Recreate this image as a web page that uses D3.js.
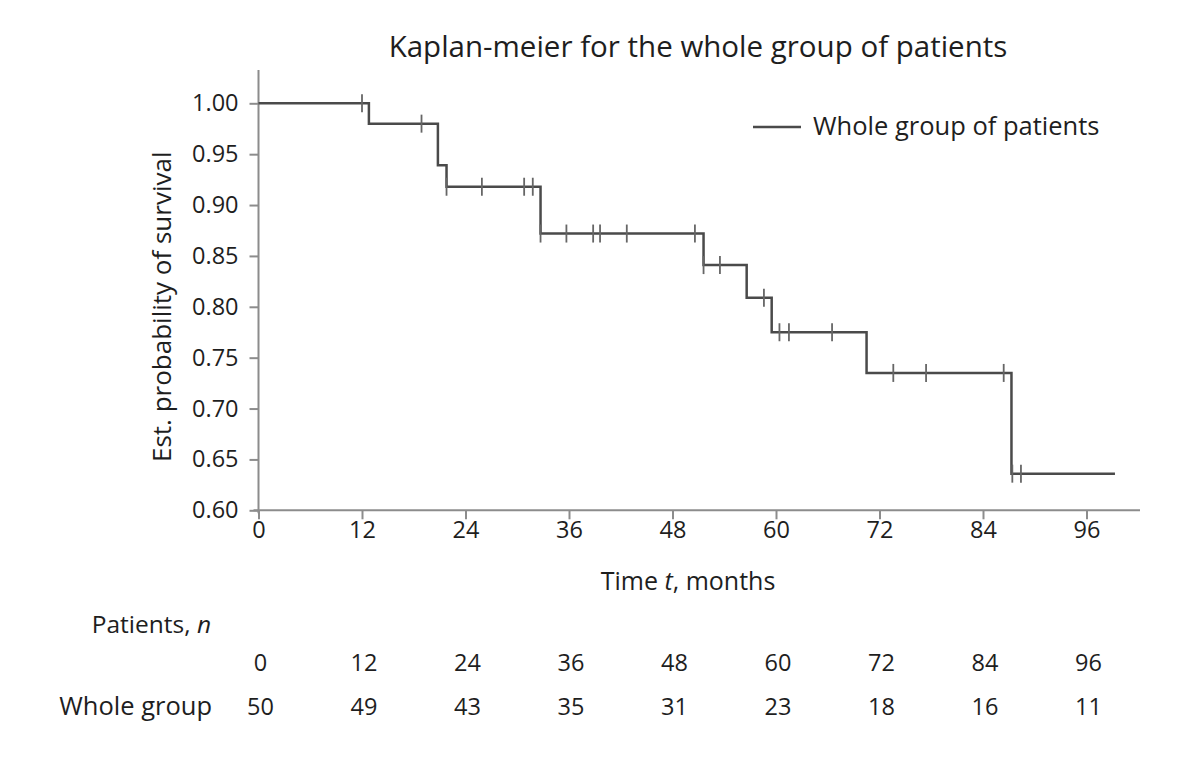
<!DOCTYPE html>
<html lang="en">
<head>
  <meta charset="UTF-8">
  <title>Kaplan-meier for the whole group of patients</title>
  <script src="https://d3js.org/d3.v7.min.js"></script>
  <style>
    body { margin: 0; background: #fff; }
    svg { display: block; font-family: "Open Sans", sans-serif; }
  </style>
</head>
<body>
  <svg width="1200" height="759"></svg>

  <script>
    // event (drop) times in months and survival level after each step
    const eventTimes = [12.8, 20.8, 21.8, 32.7, 51.6, 56.6, 59.5, 70.5, 87.3];
    const survival = [1.000, 0.980, 0.939, 0.918, 0.872, 0.841, 0.809, 0.775, 0.735, 0.636];
    const lastTime = 99.3;
    const censorTimes = [12.0, 18.9, 21.8, 25.9, 30.8, 31.8, 32.7, 35.7, 38.8, 39.6, 42.7,
                         50.6, 51.6, 53.5, 58.6, 60.4, 61.5, 66.5, 73.6, 77.4, 86.4, 87.4, 88.4];

    const xTicks = [0, 12, 24, 36, 48, 60, 72, 84, 96];
    const yTicks = [0.60, 0.65, 0.70, 0.75, 0.80, 0.85, 0.90, 0.95, 1.00];
    const atRisk = [50, 49, 43, 35, 31, 23, 18, 16, 11];

    const svg = d3.select("svg");
    const axisColor = "#8c8c8c";
    const lineColor = "#4a4a4a";
    const textColor = "#1e1e1e";

    const x = d3.scaleLinear().domain([0, 96]).range([258.5, 1086.5]);
    const y = d3.scaleLinear().domain([0.60, 1.00]).range([510.3, 103.3]);

    // title
    svg.append("text")
      .attr("x", 698).attr("y", 57)
      .attr("text-anchor", "middle")
      .attr("font-size", 29.5)
      .attr("fill", textColor)
      .text("Kaplan-meier for the whole group of patients");

    // axes
    const yAxis = svg.append("g")
      .attr("transform", `translate(${x(0)},0)`)
      .call(d3.axisLeft(y).tickValues(yTicks).tickFormat(d3.format(".2f")).tickSize(9).tickPadding(11));
    yAxis.select(".domain").attr("d", `M0,${y(0.6) + 3}V70`);

    const xAxis = svg.append("g")
      .attr("transform", `translate(0,${y(0.6)})`)
      .call(d3.axisBottom(x).tickValues(xTicks).tickSize(9).tickPadding(2));
    xAxis.select(".domain").attr("d", `M${x(0) - 5},0H1140`);

    svg.selectAll(".domain, .tick line")
      .attr("stroke", axisColor).attr("stroke-width", 2);
    svg.selectAll(".tick text")
      .attr("fill", textColor).attr("font-size", 23.5)
      .attr("font-family", "Open Sans, sans-serif");

    // axis titles
    svg.append("text")
      .attr("transform", `translate(171,${(y(0.6) + y(1)) / 2}) rotate(-90)`)
      .attr("text-anchor", "middle")
      .attr("font-size", 26)
      .attr("fill", textColor)
      .text("Est. probability of survival");

    const xt = svg.append("text")
      .attr("x", 688).attr("y", 590)
      .attr("text-anchor", "middle")
      .attr("font-size", 25)
      .attr("fill", textColor);
    xt.append("tspan").text("Time ");
    xt.append("tspan").attr("font-style", "italic").text("t");
    xt.append("tspan").text(", months");

    // step curve
    const pts = [[0, survival[0]]];
    eventTimes.forEach((t, i) => {
      pts.push([t, survival[i]]);
      pts.push([t, survival[i + 1]]);
    });
    pts.push([lastTime, survival[survival.length - 1]]);

    const line = d3.line().x(d => x(d[0])).y(d => y(d[1]));
    svg.append("path")
      .datum(pts)
      .attr("fill", "none")
      .attr("stroke", lineColor)
      .attr("stroke-width", 2.5)
      .attr("d", line);

    // censor marks
    const survAt = t => {
      let s = survival[0];
      eventTimes.forEach((e, i) => { if (t >= e) s = survival[i + 1]; });
      return s;
    };
    svg.append("g").selectAll("line")
      .data(censorTimes)
      .join("line")
      .attr("x1", d => x(d)).attr("x2", d => x(d))
      .attr("y1", d => y(survAt(d)) - 9)
      .attr("y2", d => y(survAt(d)) + 9)
      .attr("stroke", "#666")
      .attr("stroke-width", 1.8);

    // legend
    svg.append("line")
      .attr("x1", 753).attr("x2", 801).attr("y1", 127).attr("y2", 127)
      .attr("stroke", lineColor).attr("stroke-width", 2.5);
    svg.append("text")
      .attr("x", 813).attr("y", 135)
      .attr("font-size", 25.5)
      .attr("fill", textColor)
      .text("Whole group of patients");

    // number at risk table
    const pt = svg.append("text")
      .attr("x", 211).attr("y", 633)
      .attr("text-anchor", "end")
      .attr("font-size", 24.5)
      .attr("fill", textColor);
    pt.append("tspan").text("Patients, ");
    pt.append("tspan").attr("font-style", "italic").text("n");

    svg.append("g").selectAll("text")
      .data(xTicks)
      .join("text")
      .attr("x", d => x(d) + 2).attr("y", 671)
      .attr("text-anchor", "middle")
      .attr("font-size", 23.5)
      .attr("fill", textColor)
      .text(d => d);

    svg.append("text")
      .attr("x", 212).attr("y", 715)
      .attr("text-anchor", "end")
      .attr("font-size", 25.5)
      .attr("fill", textColor)
      .text("Whole group");

    svg.append("g").selectAll("text")
      .data(atRisk)
      .join("text")
      .attr("x", (d, i) => x(xTicks[i]) + 2).attr("y", 715)
      .attr("text-anchor", "middle")
      .attr("font-size", 23.5)
      .attr("fill", textColor)
      .text(d => d);
  </script>
</body>
</html>
